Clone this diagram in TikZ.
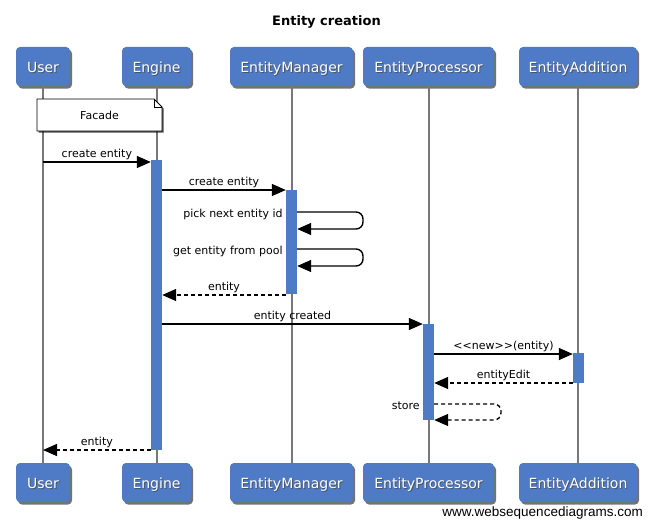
\documentclass[tikz,border=0pt]{standalone}
\usepackage{fontspec}
\setmainfont{DejaVu Sans}
\newfontfamily\wmfont{Liberation Sans}
\usetikzlibrary{arrows.meta,shadows,calc}
\definecolor{boxblue}{RGB}{79,122,198}
\definecolor{lifegray}{RGB}{120,120,120}
\newcommand{\seqactor}[5]{%
  \node[actor, minimum width=#4] (#1) at (#2,#3) {};
  \node[actortext, text=black!70, opacity=0.8] at ($(#1.center)+(1,1)$) {#5};
  \node[actortext, text=white] (#1t) at (#1.center) {#5};}
\begin{document}
\begin{tikzpicture}[x=1pt,y=-1pt,
 actor/.style={draw=none, fill=boxblue, rounded corners=4pt,
   minimum height=39pt, inner sep=0pt,
   drop shadow={shadow xshift=2pt,shadow yshift=-2.5pt,fill=black,opacity=0.55}},
 actortext/.style={font=\fontsize{14}{16}\selectfont, inner sep=0pt,
   text height=12.4pt, text depth=0pt},
 life/.style={draw=lifegray, line width=2pt},
 act/.style={fill=boxblue, draw=none, inner sep=0pt, minimum width=11pt},
 msg/.style={line width=1.4pt, -{Triangle[length=14pt,width=12pt]}},
 ret/.style={msg, dash pattern=on 4pt off 3pt},
 lbl/.style={font=\fontsize{11}{13}\selectfont, anchor=base, inner sep=0pt, yshift=5pt},
 llbl/.style={font=\fontsize{11}{13}\selectfont, anchor=base east, inner sep=0pt},
 notebox/.style={draw=black, fill=white, line width=0.8pt,
   drop shadow={shadow xshift=1.5pt,shadow yshift=-1.5pt,fill=black,opacity=0.7}}
]
\useasboundingbox (0,0) rectangle (652,527);
\fill[white] (0,0) rectangle (652,527);

% title
\node[font=\bfseries\fontsize{13}{15}\selectfont, anchor=base, inner sep=0pt] (title) at (326.5,26) {Entity creation};

% participants (top)
\seqactor{uT}{43}{66.5}{54pt}{User}
\seqactor{eT}{156.5}{66.5}{69pt}{Engine}
\seqactor{mT}{291.5}{66.5}{123pt}{EntityManager}
\seqactor{pT}{428.5}{66.5}{131pt}{EntityProcessor}
\seqactor{aT}{578}{66.5}{118pt}{EntityAddition}
% participants (bottom)
\seqactor{uB}{43}{482.5}{54pt}{User}
\seqactor{eB}{156.5}{482.5}{69pt}{Engine}
\seqactor{mB}{291.5}{482.5}{123pt}{EntityManager}
\seqactor{pB}{428.5}{482.5}{131pt}{EntityProcessor}
\seqactor{aB}{578}{482.5}{118pt}{EntityAddition}

% lifelines
\draw[life] (uT.south) -- (uB.north);
\draw[life] (eT.south) -- (eB.north);
\draw[life] (mT.south) -- (mB.north);
\draw[life] (pT.south) -- (pB.north);
\draw[life] (aT.south) -- (aB.north);

% note
\path[notebox] (37,99) -- (154,99) -- (162,107) -- (162,131) -- (37,131) -- cycle;
\draw[line width=0.8pt] (154,99) -- (154,107) -- (162,107);
\node[font=\fontsize{11}{13}\selectfont] (facade) at (99.5,115.5) {Facade};

% activations
\node[act, minimum height=290pt] (aE) at (156.5,305) {};
\node[act, minimum height=104pt] (aM) at (291.5,242) {};
\node[act, minimum height=96pt]  (aP) at (428.5,372) {};
\node[act, minimum height=30pt]  (aA) at (578.5,368) {};

% messages
\draw[msg] (uT.south |- 0,162) -- node[lbl]{create entity} (aE.west |- 0,162);
\draw[msg] (aE.east |- 0,190) -- node[lbl]{create entity} (aM.west |- 0,190);

\coordinate (l1a) at (363,212);
\coordinate (l1b) at (363,229);
\draw[msg, rounded corners=7pt] (aM.east |- l1a) -- (l1a) -- (l1b) -- (aM.east |- l1b);
\node[llbl] at ($(aM.west |- l1a)+(-3,5)$) {pick next entity id};

\coordinate (l2a) at (363,249);
\coordinate (l2b) at (363,266);
\draw[msg, rounded corners=7pt] (aM.east |- l2a) -- (l2a) -- (l2b) -- (aM.east |- l2b);
\node[llbl] at ($(aM.west |- l2a)+(-3,5)$) {get entity from pool};

\draw[ret] (aM.west |- 0,295) -- node[lbl]{entity} (aE.east |- 0,295);
\draw[msg] (aE.east |- 0,324) -- node[lbl]{entity created} (aP.west |- 0,324);
\draw[msg] (aP.east |- 0,354) -- node[lbl]{{<}{<}new{>}{>}(entity)} (aA.west |- 0,354);
\draw[ret] (aA.west |- 0,383) -- node[lbl]{entityEdit} (aP.east |- 0,383);

\coordinate (s1a) at (501,404);
\coordinate (s1b) at (501,420);
\draw[ret, rounded corners=7pt] (aP.east |- s1a) -- (s1a) -- (s1b) -- (aP.east |- s1b);
\node[llbl] at ($(aP.west |- s1a)+(-3,5)$) {store};

\draw[ret] (aE.west |- 0,450) -- node[lbl]{entity} (uT.south |- 0,450);

% watermark
\node[font=\wmfont\fontsize{13.5}{15}\selectfont, anchor=base east, inner sep=0pt] (wm) at (643,516.5) {www.websequencediagrams.com};
\end{tikzpicture}
\end{document}
